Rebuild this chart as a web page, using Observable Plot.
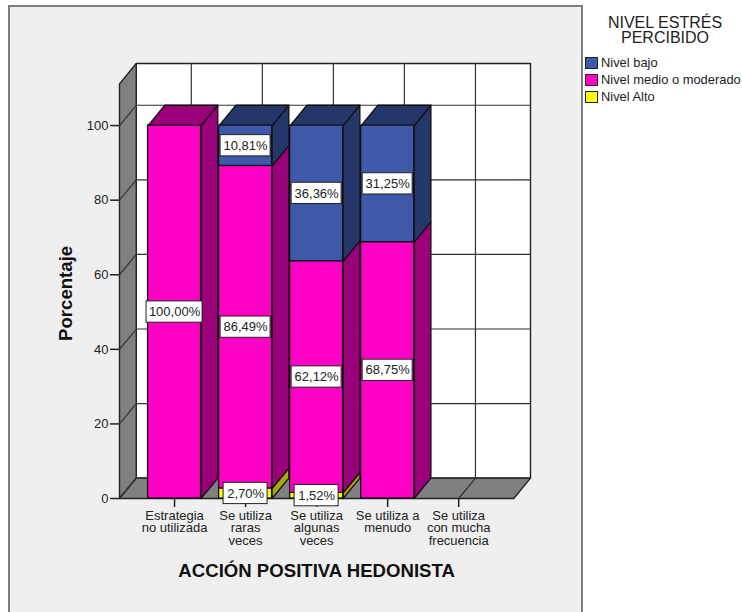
<!DOCTYPE html>
<html>
<head>
<meta charset="utf-8">
<script src="https://cdn.jsdelivr.net/npm/d3@7"></script>
<script src="https://cdn.jsdelivr.net/npm/@observablehq/plot@0.6"></script>
<style>
  html, body { margin: 0; padding: 0; background: #fff; }
  #page { position: relative; width: 742px; height: 612px; overflow: hidden;
          font-family: "Liberation Sans", Arial, sans-serif; color: #222; }
  #panel { position: absolute; left: 8px; top: 5px; width: 571px; height: 620px;
           background: #efefef; border: 2px solid #7d7d7d; }
  #chart { position: absolute; left: 0; top: 0; }
  #legend-title { position: absolute; left: 587px; width: 156px; top: 15px; text-align: center;
                  font-size: 16px; line-height: 15px; }
  .legend-row { position: absolute; left: 585px; height: 17px; display: flex; align-items: center;
                font-size: 12.9px; white-space: nowrap; }
  .legend-row i { display: block; width: 11px; height: 10px; border: 1px solid #222; margin-right: 3px; }
</style>
</head>
<body>
<div id="page">
  <div id="panel"></div>
  <div id="chart"></div>
</div>
<script>
// Stacked percentages per category of the positive-hedonist action.
const categories = ["Estrategia\nno utilizada", "Se utiliza\nraras\nveces", "Se utiliza\nalgunas\nveces", "Se utiliza a\nmenudo", "Se utiliza\ncon mucha\nfrecuencia"];
const nivelAlto = [0, 2.70, 1.52, 0, 0];
const nivelMedio = [100, 86.49, 62.12, 68.75, 0];
const nivelBajo = [0, 10.81, 36.36, 31.25, 0];
const yTicks = [0, 20, 40, 60, 80, 100];
const legendOrder = ["Nivel bajo", "Nivel medio o moderado", "Nivel Alto"];

const palette = {
  "Nivel bajo": {front: "#3e59a9", dark: "#24366a"},
  "Nivel medio o moderado": {front: "#ff00c4", dark: "#99007a"},
  "Nivel Alto": {front: "#ffff00", dark: "#a8a800"}
};

// Extent of the box in scale units; the oblique depth is a fixed offset on both axes.
const xLeft = -0.775, xRight = 4.775, wallTop = 111.2;
const depthX = 0.236, depthY = 5.45, barHalf = 0.373;

// Stack the three levels from the floor upwards.
const segments = [];
categories.forEach((category, i) => {
  let base = 0;
  [["Nivel Alto", nivelAlto], ["Nivel medio o moderado", nivelMedio], ["Nivel bajo", nivelBajo]].forEach(([level, values]) => {
    const value = values[i];
    if (value > 0) {
      segments.push({i, level, value, y1: base, y2: base + value,
        text: value.toFixed(2).replace(".", ",") + "%"});
      base += value;
    }
  });
});

// Parallelograms for the walls and for the side and top faces of the bars.
const polygon = (rows, id, fill, points) => {
  [...points, points[0]].forEach(([x, y]) => rows.push({id, fill, x, y}));
};
const walls = [];
polygon(walls, "back", "#ffffff", [[xLeft + depthX, depthY], [xRight + depthX, depthY], [xRight + depthX, wallTop + depthY], [xLeft + depthX, wallTop + depthY]]);
polygon(walls, "left", "#808080", [[xLeft, 0], [xLeft + depthX, depthY], [xLeft + depthX, wallTop + depthY], [xLeft, wallTop]]);
polygon(walls, "floor", "#808080", [[xLeft, 0], [xRight, 0], [xRight + depthX, depthY], [xLeft + depthX, depthY]]);

const gridLines = [];
const segmentLine = (id, a, b) => {
  gridLines.push({id, x: a[0], y: a[1]}, {id, x: b[0], y: b[1]});
};
yTicks.forEach(v => {
  segmentLine(`h${v}`, [xLeft + depthX, v + depthY], [xRight + depthX, v + depthY]);
  segmentLine(`d${v}`, [xLeft, v], [xLeft + depthX, v + depthY]);
});
categories.forEach((_, i) => {
  segmentLine(`v${i}`, [i + depthX, depthY], [i + depthX, wallTop + depthY]);
  segmentLine(`f${i}`, [i, 0], [i + depthX, depthY]);
});

const faces = [];
segments.forEach((s, n) => {
  const r = s.i + barHalf, l = s.i - barHalf;
  const dark = palette[s.level].dark;
  polygon(faces, `side${n}`, dark, [[r, s.y1], [r + depthX, s.y1 + depthY], [r + depthX, s.y2 + depthY], [r, s.y2]]);
  if (s.y2 > 99.99) polygon(faces, `top${n}`, dark, [[l, s.y2], [r, s.y2], [r + depthX, s.y2 + depthY], [l + depthX, s.y2 + depthY]]);
});

const unitsPerPxX = (xRight + depthX - xLeft) / 411;
const boxHalfWidth = s => (s.text.length * 6 + 14) / 2 * unitsPerPxX;
const boxHalfHeight = 2.85;

const chart = Plot.plot({
  width: 742,
  height: 612,
  marginLeft: 119,
  marginRight: 212,
  marginTop: 63,
  marginBottom: 114,
  x: {domain: [xLeft, xRight + depthX], axis: null},
  y: {domain: [0, wallTop + depthY], axis: null},
  color: {type: "identity"},
  style: {background: "transparent", fontFamily: "'Liberation Sans', Arial, sans-serif", fontSize: "13px", color: "#222", overflow: "visible"},
  marks: [
    Plot.line(walls, {x: "x", y: "y", z: "id", fill: "fill", stroke: "#222", strokeWidth: 1.4, curve: "linear"}),
    Plot.line(gridLines, {x: "x", y: "y", z: "id", stroke: "#333", strokeWidth: 1.2, curve: "linear"}),
    Plot.line(faces, {x: "x", y: "y", z: "id", fill: "fill", stroke: "#111", strokeWidth: 1.3, curve: "linear"}),
    Plot.rect(segments, {
      x1: d => d.i - barHalf, x2: d => d.i + barHalf, y1: "y1", y2: "y2",
      fill: d => palette[d.level].front, stroke: "#111", strokeWidth: 1.3
    }),
    Plot.axisY({ticks: yTicks, tickSize: 9, tickPadding: 2, label: null, strokeWidth: 1.5, stroke: "#222"}),
    Plot.axisX({ticks: d3.range(categories.length), tickSize: 9, tickPadding: 3, label: null, strokeWidth: 1.5, stroke: "#222",
      tickFormat: i => categories[i], lineHeight: 0.98}),
    Plot.rect(segments, {
      x1: d => d.i - boxHalfWidth(d), x2: d => d.i + boxHalfWidth(d),
      y1: d => (d.y1 + d.y2) / 2 - boxHalfHeight, y2: d => (d.y1 + d.y2) / 2 + boxHalfHeight,
      fill: "#fff", stroke: "#222", strokeWidth: 1
    }),
    Plot.text(segments, {x: "i", y: d => (d.y1 + d.y2) / 2, text: "text", fontSize: 13, fill: "#222"}),
    Plot.text(["Porcentaje"], {frameAnchor: "left", textAnchor: "middle", y: [55], dx: -53, rotate: -90, fontWeight: "bold", fontSize: 18.6, fill: "#111"}),
    Plot.text(["ACCIÓN POSITIVA HEDONISTA"], {x: [2], frameAnchor: "bottom", dy: 78, fontWeight: "bold", fontSize: 18.6, fill: "#111"})
  ]
});
document.getElementById("chart").appendChild(chart);

// Legend beside the panel, generated from the level names.
const page = document.getElementById("page");
const title = document.createElement("div");
title.id = "legend-title";
title.innerHTML = "NIVEL ESTRÉS<br>PERCIBIDO";
page.appendChild(title);
legendOrder.forEach((level, n) => {
  const row = document.createElement("div");
  row.className = "legend-row";
  row.style.top = (54 + n * 17) + "px";
  const swatch = document.createElement("i");
  swatch.style.background = palette[level].front;
  row.appendChild(swatch);
  row.appendChild(document.createTextNode(level));
  page.appendChild(row);
});
</script>
</body>
</html>
